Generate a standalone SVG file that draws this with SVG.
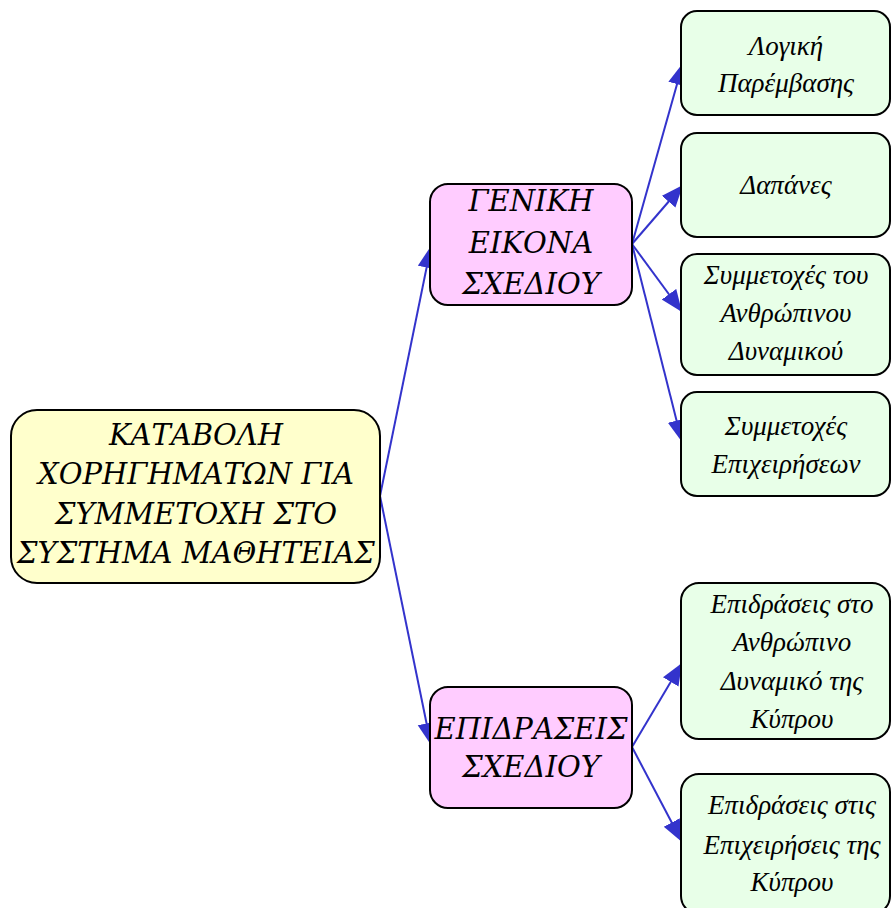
<svg xmlns="http://www.w3.org/2000/svg" width="891" height="908" viewBox="0 0 891 908">
<style>
.box{stroke:#000;stroke-width:2}
.root{fill:#ffffcc}
.mid{fill:#ffccff}
.leaf{fill:#e8ffe8}
.t{font-style:italic;text-anchor:middle;fill:#000}
.big{font-family:"DejaVu Serif","Liberation Serif",serif;font-size:29px}
.sm{font-family:"Liberation Serif","DejaVu Serif",serif;font-size:27px}
.edge{stroke:#3333cc;stroke-width:2;fill:none;marker-end:url(#ah)}
</style>
<defs>
<marker id="ah" markerUnits="userSpaceOnUse" markerWidth="24" markerHeight="20" refX="22" refY="9" orient="auto">
<path d="M0,0 L22,9 L0,18 Z" fill="#3333cc"/>
</marker>
</defs>
<rect x="0" y="0" width="891" height="908" fill="#fff"/>
<g id="connectors">
<line class="edge" x1="380" y1="496" x2="431" y2="246"/>
<line class="edge" x1="380" y1="496" x2="431" y2="745"/>
<line class="edge" x1="632" y1="244" x2="683" y2="63"/>
<line class="edge" x1="632" y1="244" x2="683" y2="185"/>
<line class="edge" x1="632" y1="244" x2="682" y2="312"/>
<line class="edge" x1="632" y1="244" x2="682" y2="442"/>
<line class="edge" x1="632" y1="747" x2="682" y2="663"/>
<line class="edge" x1="632" y1="747" x2="682" y2="842"/>
</g>
<g id="root">
<rect class="box root" x="11" y="410" width="369" height="173" rx="26"/>
<text class="t big" x="196" y="445">ΚΑΤΑΒΟΛΗ</text>
<text class="t big" x="196" y="484">ΧΟΡΗΓΗΜΑΤΩΝ ΓΙΑ</text>
<text class="t big" x="196" y="524">ΣΥΜΜΕΤΟΧΗ ΣΤΟ</text>
<text class="t big" x="196" y="563">ΣΥΣΤΗΜΑ ΜΑΘΗΤΕΙΑΣ</text>
</g>
<g id="geniki">
<rect class="box mid" x="430" y="184" width="202" height="121" rx="18"/>
<text class="t big" x="531" y="211">ΓΕΝΙΚΗ</text>
<text class="t big" x="531" y="253">ΕΙΚΟΝΑ</text>
<text class="t big" x="531" y="294">ΣΧΕΔΙΟΥ</text>
</g>
<g id="epidraseis">
<rect class="box mid" x="430" y="687" width="202" height="121" rx="18"/>
<text class="t big" x="531" y="739">ΕΠΙΔΡΑΣΕΙΣ</text>
<text class="t big" x="531" y="777">ΣΧΕΔΙΟΥ</text>
</g>
<g id="logiki">
<rect class="box leaf" x="681" y="11" width="209" height="104" rx="16"/>
<text class="t sm" x="786" y="55">Λογική</text>
<text class="t sm" x="786" y="92">Παρέμβασης</text>
</g>
<g id="dapanes">
<rect class="box leaf" x="681" y="133" width="209" height="104" rx="16"/>
<text class="t sm" x="786" y="194">Δαπάνες</text>
</g>
<g id="symmetoxes-anthr">
<rect class="box leaf" x="681" y="254" width="209" height="121" rx="16"/>
<text class="t sm" x="786" y="284">Συμμετοχές του</text>
<text class="t sm" x="786" y="322">Ανθρώπινου</text>
<text class="t sm" x="786" y="360">Δυναμικού</text>
</g>
<g id="symmetoxes-epix">
<rect class="box leaf" x="681" y="392" width="209" height="104" rx="16"/>
<text class="t sm" x="786" y="435">Συμμετοχές</text>
<text class="t sm" x="786" y="473">Επιχειρήσεων</text>
</g>
<g id="epidr-anthr">
<rect class="box leaf" x="681" y="583" width="209" height="156" rx="18"/>
<text class="t sm" x="792" y="613">Επιδράσεις στο</text>
<text class="t sm" x="792" y="651">Ανθρώπινο</text>
<text class="t sm" x="792" y="690">Δυναμικό της</text>
<text class="t sm" x="792" y="728">Κύπρου</text>
</g>
<g id="epidr-epix">
<rect class="box leaf" x="681" y="774" width="209" height="140" rx="18"/>
<text class="t sm" x="792" y="814">Επιδράσεις στις</text>
<text class="t sm" x="792" y="854">Επιχειρήσεις της</text>
<text class="t sm" x="792" y="891">Κύπρου</text>
</g>
</svg>
